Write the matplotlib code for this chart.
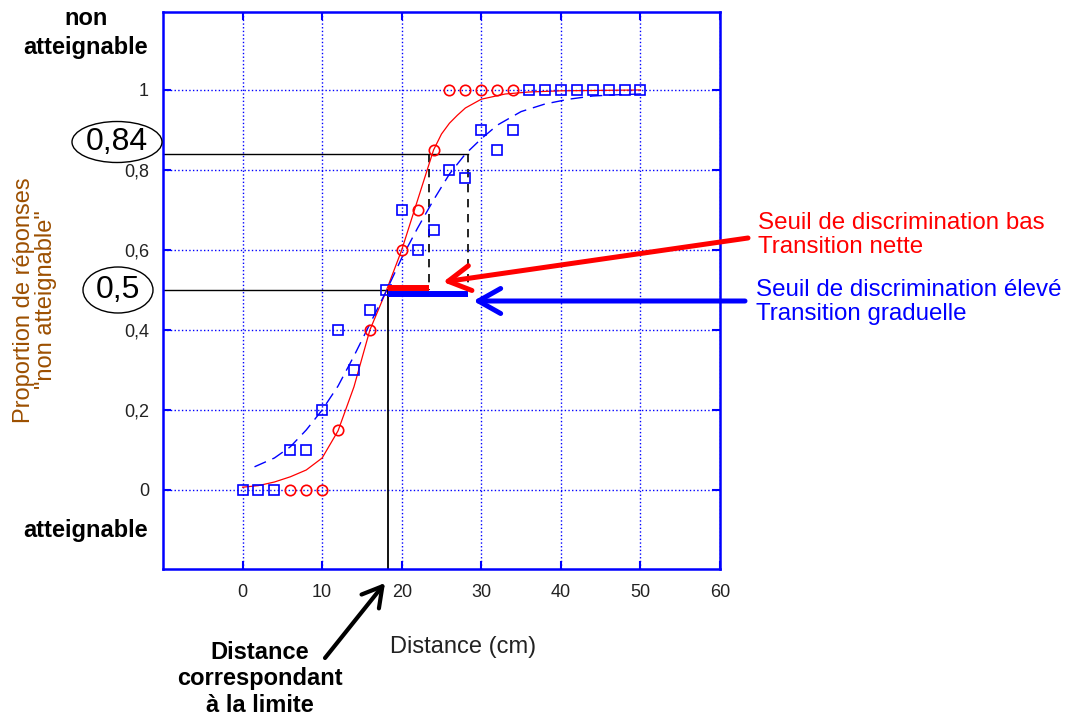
import numpy as np
import matplotlib
matplotlib.use("Agg")
import matplotlib.pyplot as plt
from matplotlib.patches import Ellipse

plt.rcParams['font.family'] = ['Liberation Sans', 'DejaVu Sans']

W, H = 1069, 719

# observed data: red = sharp transition, blue = gradual transition
dist_rouge = [6, 8, 10, 12, 16, 20, 22, 24, 26, 28, 30, 32, 34]
prop_rouge = [0, 0, 0, 0.15, 0.4, 0.6, 0.7, 0.85, 1, 1, 1, 1, 1]

dist_bleu = [0, 2, 4, 6, 8, 10, 12, 14, 16, 18, 20, 22, 24, 26, 28, 30, 32, 34,
             36, 38, 40, 42, 44, 46, 48, 50]
prop_bleu = [0, 0, 0, 0.1, 0.1, 0.2, 0.4, 0.3, 0.45, 0.5, 0.7, 0.6, 0.65, 0.8,
             0.78, 0.9, 0.85, 0.9, 1, 1, 1, 1, 1, 1, 1, 1]

# fitted curves
fit_rouge_x = [0, 2, 4, 6, 8, 10, 12, 14, 16, 18, 20, 22, 24, 25, 26, 27, 28,
               30, 33, 36, 40, 50]
fit_rouge_y = [0.007, 0.011, 0.02, 0.033, 0.05, 0.08, 0.148, 0.258, 0.40, 0.495,
               0.60, 0.725, 0.85, 0.89, 0.917, 0.937, 0.955, 0.977, 0.99,
               0.995, 0.998, 1.0]

fit_bleu_x = [1.5, 4, 6, 8, 10, 12, 14, 16, 18, 20, 22, 24, 26, 28, 30, 32, 35,
              38, 41, 44, 47, 50]
fit_bleu_y = [0.058, 0.08, 0.108, 0.15, 0.2, 0.26, 0.335, 0.415, 0.495, 0.58,
              0.655, 0.725, 0.79, 0.84, 0.878, 0.912, 0.946, 0.965, 0.977,
              0.985, 0.988, 0.99]

seuil_50 = 18.3
seuil_84_rouge = 23.4
seuil_84_bleu = 28.3

x_ticks = [0, 10, 20, 30, 40, 50, 60]
y_ticks = [0, 0.2, 0.4, 0.6, 0.8, 1]
y_ticklabels = ["0", "0,2", "0,4", "0,6", "0,8", "1"]


def px(x, y):
    return (x / W, 1 - y / H)


fig = plt.figure(figsize=(W / 100, H / 100), dpi=100)
ax = fig.add_axes([163 / W, 1 - 569 / H, (720 - 163) / W, (569 - 12) / H])

ax.set_xlim(-10, 60)
ax.set_ylim(-0.1975, 1.195)
ax.set_xticks(x_ticks)
ax.set_yticks(y_ticks)
ax.set_yticklabels(y_ticklabels)
ax.grid(True, ls=':', color='blue', lw=1)
ax.set_axisbelow(True)
ax.tick_params(direction='in', length=6, width=1.5, color='blue',
               top=True, right=True, labelsize=13, labelcolor='#222222')
ax.tick_params(axis='x', pad=11)
ax.tick_params(axis='y', pad=10)
for s in ax.spines.values():
    s.set_color('blue')
    s.set_linewidth(1.8)

# reference lines
ax.plot([-10, seuil_84_bleu], [0.84, 0.84], color='black', lw=1)
ax.plot([-10, seuil_50], [0.5, 0.5], color='black', lw=1)
ax.plot([seuil_50, seuil_50], [0.5, -0.1975], color='black', lw=1.3)
ax.plot([seuil_84_rouge, seuil_84_rouge], [0.84, 0.5], color='black', lw=1.2, ls=(0, (5, 4)))
ax.plot([seuil_84_bleu, seuil_84_bleu], [0.84, 0.5], color='black', lw=1.2, ls=(0, (5, 4)))

# fits
ax.plot(fit_rouge_x, fit_rouge_y, color='red', lw=0.9)
ax.plot(fit_bleu_x, fit_bleu_y, color='blue', lw=1.0, ls=(0, (9, 5)))

# observed points
ax.plot(dist_rouge, prop_rouge, 'o', mfc='none', mec='red', ms=7.5, mew=1.2)
ax.plot(dist_bleu, prop_bleu, 's', mfc='none', mec='blue', ms=7.5, mew=1.2)

# threshold bars
ax.plot([seuil_50, seuil_84_rouge], [0.505, 0.505], color='red', lw=4.3, solid_capstyle='butt')
ax.plot([seuil_50, seuil_84_bleu], [0.49, 0.49], color='blue', lw=4.3, solid_capstyle='butt')

# arrows
ax.annotate('', xy=(25.2, 0.52), xycoords='data', xytext=px(748, 238),
            textcoords='figure fraction',
            arrowprops=dict(arrowstyle='->,head_length=0.8,head_width=0.45',
                            color='red', lw=3.6, mutation_scale=20,
                            shrinkA=0, shrinkB=0))
ax.annotate('', xy=(29.0, 0.4725), xycoords='data', xytext=px(745, 301),
            textcoords='figure fraction',
            arrowprops=dict(arrowstyle='->,head_length=0.8,head_width=0.45',
                            color='blue', lw=3.6, mutation_scale=20,
                            shrinkA=0, shrinkB=0))
ax.annotate('', xy=px(385, 583), xycoords='figure fraction', xytext=px(325, 658),
            textcoords='figure fraction',
            arrowprops=dict(arrowstyle='->,head_length=0.7,head_width=0.4',
                            color='black', lw=3.0, mutation_scale=20,
                            shrinkA=0, shrinkB=0))

# texts
fig.text(*px(758, 235), "Seuil de discrimination bas\nTransition nette",
         color='red', fontsize=17.4, ha='left', va='center', linespacing=1.1)
fig.text(*px(756, 302), "Seuil de discrimination élevé\nTransition graduelle",
         color='blue', fontsize=17.4, ha='left', va='center', linespacing=1.1)

fig.text(*px(86, 33), "non\natteignable", fontsize=17, fontweight='bold',
         ha='center', va='center', linespacing=1.3)
fig.text(*px(86, 530), "atteignable", fontsize=17, fontweight='bold',
         ha='center', va='center')
fig.text(*px(260, 679), "Distance\ncorrespondant\nà la limite", fontsize=17,
         fontweight='bold', ha='center', va='center', linespacing=1.2)

fig.text(*px(463, 647), "Distance (cm)", fontsize=17, ha='center', va='center',
         color='#222222')
fig.text(*px(35, 300), 'Proportion de réponses\n"non atteignable"', fontsize=17,
         rotation=90, ha='center', va='center', color='#9c4f00', linespacing=1.05)

# circled values
for (cx, cy, w, h, lab) in [(117, 142, 90, 41, "0,84"), (118, 290, 70, 46, "0,5")]:
    e = Ellipse(px(cx, cy), w / W, h / H, transform=fig.transFigure,
                fc='white', ec='black', lw=1)
    fig.add_artist(e)
    fig.text(*px(cx, cy), lab, fontsize=23, ha='center', va='center')

fig.savefig("out.png", dpi=100)
